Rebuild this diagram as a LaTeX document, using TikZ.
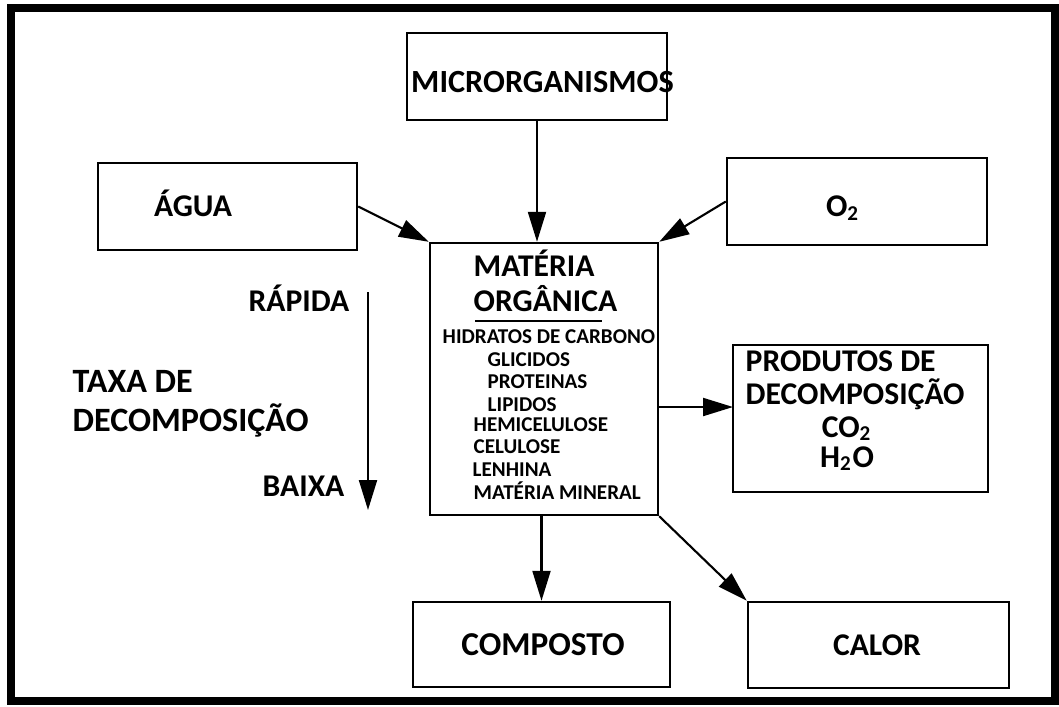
\documentclass[tikz,border=0pt]{standalone}
\usepackage{fontspec}
\setmainfont{Carlito}
\usetikzlibrary{arrows.meta}
\begin{document}
\begin{tikzpicture}[x=1cm, y=-1cm,
		caixa/.style={draw, line width=0.7pt, inner sep=0pt},
		seta/.style={line width=0.6pt, -{Triangle[length=3mm, width=1.8mm]}},
		rotulo/.style={font=\fontsize{9}{11}\selectfont\bfseries, inner sep=0pt},
		item/.style={font=\fontsize{6}{7}\selectfont\bfseries, inner sep=0pt, anchor=base west}]
		\useasboundingbox (0, 0) rectangle (10.59, 7.06);
		\draw[line width=2.3pt] (0.11, 0.08) rectangle (10.55, 7.01);

		% caixas
		\node[caixa, minimum width=2.60cm, minimum height=0.87cm] (micro) at (5.37, 0.765) {};
		\node[caixa, minimum width=2.59cm, minimum height=0.87cm] (agua) at (2.275, 2.065) {};
		\node[caixa, minimum width=2.60cm, minimum height=0.87cm] (o2) at (8.57, 2.015) {};
		\node[caixa, minimum width=2.28cm, minimum height=2.72cm] (mo) at (5.44, 3.79) {};
		\node[caixa, minimum width=2.55cm, minimum height=1.47cm] (prod) at (8.605, 4.185) {};
		\node[caixa, minimum width=2.57cm, minimum height=0.85cm] (comp) at (5.415, 6.445) {};
		\node[caixa, minimum width=2.61cm, minimum height=0.86cm] (calor) at (8.785, 6.45) {};

		% textos
		\node[rotulo, font=\fontsize{9.2}{11}\selectfont\bfseries] (micro_t) at (5.425, 0.82) {MICRORGANISMOS};
		\node[rotulo] (agua_t) at (1.93, 2.03) {ÁGUA};
		\node[rotulo] (o2_t) at (8.43, 2.08) {O\textsubscript{2}};
		\node[rotulo, font=\fontsize{9.5}{11}\selectfont\bfseries] (comp_t) at (5.43, 6.45) {COMPOSTO};
		\node[rotulo] (calor_t) at (8.77, 6.45) {CALOR};

		\node[rotulo, anchor=base west] (mo_1) at (4.73, 2.76) {MATÉRIA};
		\node[rotulo, anchor=base west] (mo_2) at (4.73, 3.11) {ORGÂNICA};
		\draw[line width=0.6pt] (4.75, 3.21) -- (6.02, 3.21);
		\node[item] (hid) at (4.42, 3.43) {HIDRATOS DE CARBONO};
		\node[item] (gli) at (4.87, 3.66) {GLICIDOS};
		\node[item] (pro) at (4.87, 3.88) {PROTEINAS};
		\node[item] (lip) at (4.87, 4.11) {LIPIDOS};
		\node[item] (hem) at (4.73, 4.31) {HEMICELULOSE};
		\node[item] (cel) at (4.73, 4.53) {CELULOSE};
		\node[item] (len) at (4.72, 4.76) {LENHINA};
		\node[item] (min) at (4.73, 4.99) {MATÉRIA MINERAL};

		\node[rotulo, anchor=base west] (prod_1) at (7.45, 3.71) {PRODUTOS DE};
		\node[rotulo, anchor=base west] (prod_2) at (7.45, 4.04) {DECOMPOSIÇÃO};
		\node[rotulo, anchor=base] (co2) at (8.47, 4.37) {CO\textsubscript{2}};
		\node[rotulo, anchor=base] (h2o) at (8.47, 4.67) {H\textsubscript{2}O};

		% taxa de decomposicao
		\coordinate (rap) at (3.68, 2.92);
		\coordinate (bai) at (3.68, 5.10);
		\node[rotulo, anchor=base east] (rap_t) at (3.50, 3.11) {RÁPIDA};
		\node[rotulo, anchor=base west, font=\fontsize{9.7}{11}\selectfont\bfseries] (taxa_1) at (0.72, 3.92) {TAXA DE};
		\node[rotulo, anchor=base west, font=\fontsize{9.7}{11}\selectfont\bfseries] (taxa_2) at (0.72, 4.31) {DECOMPOSIÇÃO};
		\node[rotulo, anchor=base east] (bai_t) at (3.45, 4.96) {BAIXA};
		\draw[seta] (rap) -- (bai);

		% setas
		\coordinate (prod_in) at (7.33, 4.07);
		\draw[seta] (micro.south) -- (micro.south |- mo.north);
		\draw[seta] (agua.east) -- (mo.north west);
		\draw[seta] (o2.west) -- (mo.north east);
		\draw[seta] (mo.east |- prod_in) -- (prod_in);
		\draw[seta] (comp.north |- mo.south) -- (comp.north);
		\draw[seta] (mo.south east) -- (calor.north west);
	\end{tikzpicture}
\end{document}
